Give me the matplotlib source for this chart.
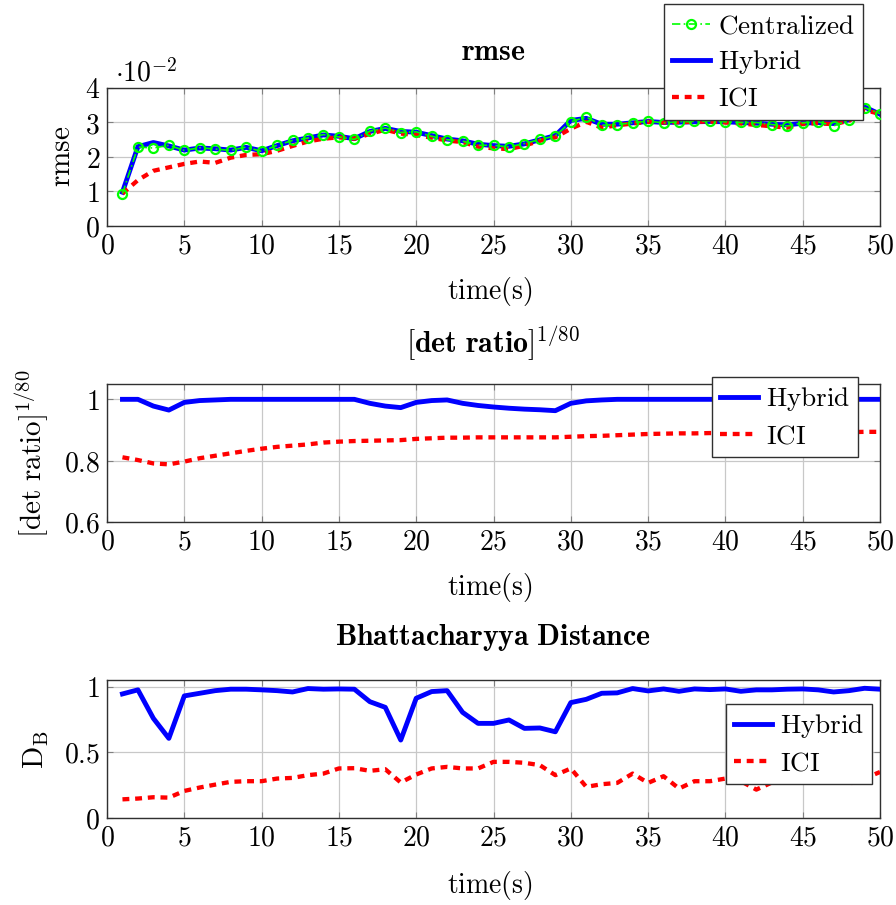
import numpy as np
import matplotlib
matplotlib.use("Agg")
import matplotlib.pyplot as plt

plt.rcParams['mathtext.fontset'] = 'cm'
plt.rcParams['font.family'] = ['DejaVu Serif']

time = np.arange(1, 51)

# rmse values in units of 1e-2
rmse_centralized = [0.94, 2.29, 2.26, 2.34, 2.19, 2.27, 2.23, 2.19, 2.29, 2.16,
                    2.34, 2.48, 2.55, 2.65, 2.58, 2.51, 2.75, 2.84, 2.71, 2.73,
                    2.60, 2.50, 2.46, 2.34, 2.34, 2.29, 2.39, 2.51, 2.61, 3.02,
                    3.16, 2.92, 2.94, 2.99, 3.04, 2.99, 3.02, 3.03, 3.05, 3.02,
                    3.00, 3.00, 2.94, 2.90, 2.99, 3.02, 2.90, 3.07, 3.43, 3.26]
rmse_hybrid = [0.98, 2.30, 2.42, 2.32, 2.20, 2.26, 2.24, 2.20, 2.28, 2.18,
               2.33, 2.47, 2.55, 2.64, 2.60, 2.53, 2.74, 2.83, 2.74, 2.72,
               2.62, 2.52, 2.47, 2.37, 2.33, 2.31, 2.38, 2.50, 2.62, 3.06,
               3.12, 2.95, 2.95, 2.99, 3.03, 3.00, 3.01, 3.02, 3.03, 3.02,
               3.00, 2.98, 2.95, 2.93, 2.98, 3.00, 2.97, 3.08, 3.45, 3.24]
rmse_ici = [0.94, 1.33, 1.60, 1.70, 1.80, 1.87, 1.83, 1.98, 2.06, 2.08,
            2.18, 2.32, 2.45, 2.53, 2.57, 2.53, 2.67, 2.79, 2.68, 2.64,
            2.56, 2.48, 2.43, 2.30, 2.25, 2.23, 2.33, 2.47, 2.57, 2.82,
            3.02, 2.85, 2.92, 2.97, 3.02, 3.00, 3.01, 3.02, 3.03, 3.00,
            2.97, 2.93, 2.89, 2.85, 2.96, 2.98, 2.95, 3.05, 3.36, 3.25]

det_hybrid = [1.0, 1.0, 0.978, 0.965, 0.99, 0.996, 0.998, 1.0, 1.0, 1.0,
              1.0, 1.0, 1.0, 1.0, 1.0, 1.0, 0.987, 0.978, 0.973, 0.99,
              0.996, 0.998, 0.987, 0.98, 0.975, 0.971, 0.968, 0.966, 0.963, 0.987,
              0.995, 0.998, 1.0, 1.0, 1.0, 1.0, 1.0, 1.0, 1.0, 1.0,
              1.0, 1.0, 1.0, 1.0, 1.0, 1.0, 1.0, 1.0, 1.0, 1.0]
det_ici = [0.811, 0.802, 0.791, 0.788, 0.797, 0.808, 0.816, 0.824, 0.832, 0.839,
           0.845, 0.849, 0.853, 0.859, 0.862, 0.864, 0.865, 0.866, 0.867, 0.871,
           0.873, 0.875, 0.875, 0.876, 0.876, 0.876, 0.876, 0.876, 0.876, 0.878,
           0.880, 0.881, 0.883, 0.885, 0.887, 0.888, 0.889, 0.889, 0.890, 0.890,
           0.891, 0.891, 0.892, 0.892, 0.892, 0.893, 0.893, 0.893, 0.894, 0.894]

db_hybrid = [0.944, 0.975, 0.758, 0.606, 0.929, 0.949, 0.969, 0.980, 0.980, 0.975,
             0.969, 0.959, 0.985, 0.980, 0.982, 0.980, 0.885, 0.842, 0.593, 0.911,
             0.962, 0.969, 0.804, 0.720, 0.720, 0.746, 0.682, 0.685, 0.656, 0.878,
             0.903, 0.949, 0.952, 0.985, 0.967, 0.982, 0.964, 0.982, 0.977, 0.982,
             0.964, 0.975, 0.975, 0.980, 0.982, 0.975, 0.959, 0.969, 0.987, 0.980]
db_ici = [0.142, 0.148, 0.158, 0.155, 0.206, 0.232, 0.254, 0.275, 0.280, 0.280,
          0.300, 0.305, 0.326, 0.338, 0.377, 0.379, 0.359, 0.371, 0.270, 0.331,
          0.377, 0.389, 0.377, 0.377, 0.427, 0.427, 0.420, 0.402, 0.326, 0.377,
          0.237, 0.257, 0.267, 0.338, 0.267, 0.318, 0.224, 0.280, 0.280, 0.300,
          0.280, 0.216, 0.270, 0.290, 0.300, 0.280, 0.310, 0.260, 0.300, 0.350]

xticks = [0, 5, 10, 15, 20, 25, 30, 35, 40, 45, 50]
xticklabels = ['0', '5', '10', '15', '20', '25', '30', '35', '40', '45', '50']
rmse_yticks = [0, 1, 2, 3, 4]
rmse_yticklabels = ['0', '1', '2', '3', '4']
det_yticks = [0.6, 0.8, 1.0]
det_yticklabels = ['0.6', '0.8', '1']
db_yticks = [0, 0.5, 1.0]
db_yticklabels = ['0', '0.5', '1']

FS_TICK = 20
FS_XLAB = 20
FS_YLAB = 21
FS_TITLE = 21.5
FS_LEG = 19.5
W, H = 896, 905
fig = plt.figure(figsize=(W / 100, H / 100), dpi=100)

def m(s):
    return r'$\mathrm{' + s + '}$'

def make_ax(top, bottom):
    ax = fig.add_axes([107 / W, 1 - bottom / H, (880 - 107) / W, (bottom - top) / H])
    ax.set_xlim(0, 50)
    ax.set_xticks(xticks)
    ax.set_xticklabels([m(t) for t in xticklabels], fontsize=FS_TICK)
    ax.grid(True, color='#c8c8c8', lw=0.9)
    ax.set_axisbelow(True)
    ax.tick_params(direction='in', length=4, color='#808080', top=True, right=True,
                   pad=5)
    for s in ax.spines.values():
        s.set_color('#303030')
        s.set_linewidth(1.0)
    return ax

def make_legend(ax, right, top):
    leg = ax.legend(loc='upper right', bbox_to_anchor=(right / W, 1 - top / H),
                    bbox_transform=fig.transFigure, fontsize=FS_LEG, frameon=True,
                    fancybox=False, edgecolor='#303030', framealpha=1, handlelength=1.4,
                    handletextpad=0.3, labelspacing=0.33, borderpad=0.3, borderaxespad=0)
    leg.get_frame().set_linewidth(1.0)
    leg.set_zorder(10)
    return leg

RED = dict(color=(1, 0, 0), lw=3.1, ls=(0, (1.6, 1.35)), dash_capstyle='butt', zorder=4)
BLUE = dict(color=(0, 0, 1), lw=3.5, zorder=3, solid_joinstyle='round')

# --- top ---
ax1 = make_ax(88, 226)
ax1.set_ylim(0, 4)
ax1.set_yticks(rmse_yticks)
ax1.set_yticklabels([m(t) for t in rmse_yticklabels], fontsize=FS_TICK)
ax1.plot(time, rmse_centralized, color=(0, 1, 0), lw=1.2, ls=(0, (5, 2, 1, 2)),
         marker='o', ms=6.5, mfc='none', mew=1.6, zorder=5, label=m('Centralized'))
ax1.plot(time, rmse_hybrid, label=m('Hybrid'), **BLUE)
ax1.plot(time, rmse_ici, label=m('ICI'), **RED)
make_legend(ax1, 863, 4)
fig.text(493 / W, 1 - 52 / H, r'$\mathbf{rmse}$', ha='center', va='center', fontsize=FS_TITLE)
fig.text(62 / W, 1 - 156 / H, m('rmse'), ha='center', va='center', rotation=90, fontsize=FS_YLAB)
fig.text(146 / W, 1 - 73 / H, r'$\cdot 10^{-2}$', ha='center', va='center', fontsize=FS_TICK)
fig.text(490 / W, 1 - 292 / H, m('time(s)'), ha='center', va='center', fontsize=FS_XLAB)

# --- middle ---
ax2 = make_ax(384, 522)
ax2.set_ylim(0.6, 1.05)
ax2.set_yticks(det_yticks)
ax2.set_yticklabels([m(t) for t in det_yticklabels], fontsize=FS_TICK)
ax2.plot(time, det_hybrid, label=m('Hybrid'), **BLUE)
ax2.plot(time, det_ici, label=m('ICI'), **RED)
make_legend(ax2, 858, 377)
fig.text(493 / W, 1 - 343 / H, r'$\mathbf{[det\ ratio]}^{\mathbf{1/80}}$', ha='center', va='center', fontsize=FS_TITLE)
fig.text(32 / W, 1 - 454 / H, r'$[\mathrm{det\ ratio}]^{1/80}$', ha='center', va='center', rotation=90, fontsize=FS_YLAB)
fig.text(490 / W, 1 - 587 / H, m('time(s)'), ha='center', va='center', fontsize=FS_XLAB)

# --- bottom ---
ax3 = make_ax(680, 818)
ax3.set_ylim(0, 1.05)
ax3.set_yticks(db_yticks)
ax3.set_yticklabels([m(t) for t in db_yticklabels], fontsize=FS_TICK)
ax3.plot(time, db_hybrid, label=m('Hybrid'), **BLUE)
ax3.plot(time, db_ici, label=m('ICI'), **RED)
make_legend(ax3, 872, 704)
fig.text(493 / W, 1 - 637 / H, r'$\mathbf{Bhattacharyya\ Distance}$', ha='center', va='center', fontsize=FS_TITLE)
fig.text(36 / W, 1 - 750 / H, r'$\mathrm{D_B}$', ha='center', va='center', rotation=90, fontsize=FS_YLAB)
fig.text(490 / W, 1 - 885 / H, m('time(s)'), ha='center', va='center', fontsize=FS_XLAB)

fig.savefig('out.png', dpi=100)
